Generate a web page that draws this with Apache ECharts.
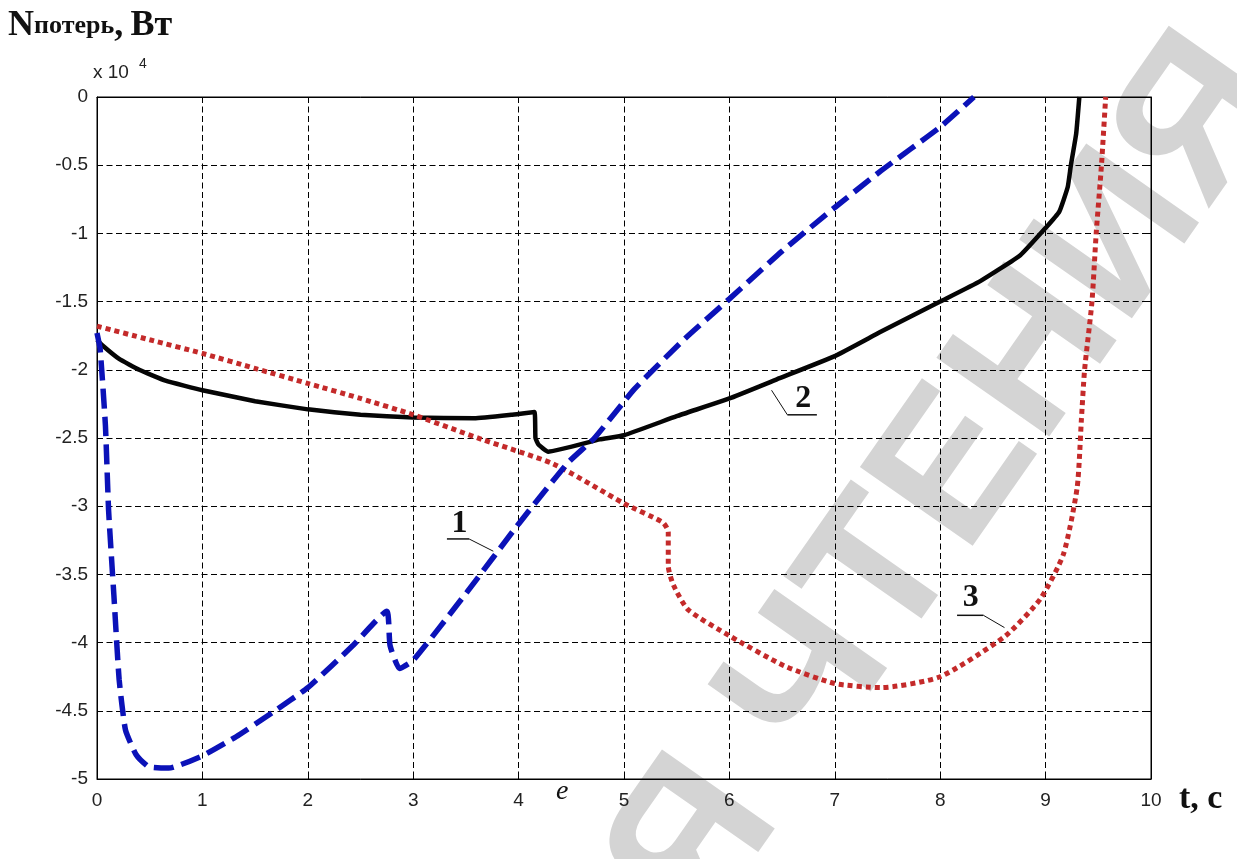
<!DOCTYPE html>
<html>
<head>
<meta charset="utf-8">
<script src="https://cdn.jsdelivr.net/npm/echarts@6/dist/echarts.min.js"></script>
<style>
html,body{margin:0;padding:0;background:#fff;}
#chart{width:1237px;height:859px;}
</style>
</head>
<body>
<div id="chart"></div>
<script>
// ---- data (values in units of 10^4 W) ----
var t1 = [0, 0.03, 0.08, 0.11, 0.16, 0.21, 0.27, 0.37, 0.49, 0.68, 1.0, 1.32, 1.67, 2.0, 2.43, 2.75, 2.78, 2.87, 3.0, 3.51, 4.0, 4.47, 4.72, 5.1, 5.58, 6.0, 6.5, 7.0, 7.44, 8.0, 8.32];
var v1 = [-1.73, -1.85, -2.41, -3.03, -3.65, -4.27, -4.64, -4.82, -4.91, -4.92, -4.83, -4.69, -4.51, -4.33, -4.02, -3.77, -4.02, -4.19, -4.13, -3.63, -3.13, -2.68, -2.50, -2.14, -1.77, -1.48, -1.13, -0.81, -0.54, -0.22, 0];

var t2 = [0, 0.05, 0.21, 0.4, 0.65, 1.0, 1.5, 2.0, 2.5, 3.0, 3.58, 3.93, 4.15, 4.16, 4.19, 4.28, 4.77, 5.0, 5.5, 6.0, 6.45, 7.0, 7.44, 8.0, 8.38, 8.76, 9.0, 9.13, 9.21, 9.24, 9.29, 9.32];
var v2 = [-1.78, -1.82, -1.92, -2.0, -2.08, -2.15, -2.23, -2.29, -2.33, -2.35, -2.355, -2.33, -2.31, -2.50, -2.55, -2.60, -2.51, -2.48, -2.34, -2.21, -2.07, -1.90, -1.72, -1.50, -1.35, -1.16, -0.96, -0.84, -0.66, -0.50, -0.27, 0];

var t3 = [0, 0.5, 1.0, 1.5, 2.0, 2.5, 3.0, 3.65, 4.33, 5.0, 5.37, 5.42, 5.42, 5.47, 5.61, 6.0, 6.52, 7.0, 7.44, 8.0, 8.62, 8.95, 9.17, 9.3, 9.34, 9.37, 9.44, 9.48, 9.53, 9.57];
var v3 = [-1.68, -1.78, -1.88, -1.99, -2.10, -2.21, -2.33, -2.51, -2.69, -2.98, -3.12, -3.19, -3.44, -3.58, -3.76, -3.95, -4.17, -4.30, -4.33, -4.25, -3.95, -3.68, -3.35, -2.86, -2.36, -2.0, -1.5, -1.0, -0.5, 0];

var xTicks = [0, 1, 2, 3, 4, 5, 6, 7, 8, 9, 10];
var yTicks = [0, -0.5, -1, -1.5, -2, -2.5, -3, -3.5, -4, -4.5, -5];

// curve labels: text, label centre, underline start, underline end, leader end (data coordinates)
var labelTexts = ['1', '2', '3'];
var labelPos = [[3.44, -3.13], [6.70, -2.21], [8.29, -3.67]];
var underA = [[3.32, -3.24], [6.55, -2.33], [8.16, -3.80]];
var underB = [[3.53, -3.24], [6.83, -2.33], [8.41, -3.80]];
var leaderEnd = [[3.76, -3.33], [6.40, -2.15], [8.61, -3.89]];

function pairs(t, v) { return t.map(function (x, i) { return [x, v[i]]; }); }

var chart = echarts.init(document.getElementById('chart'), null, {renderer: 'canvas'});

var axisFont = {color: '#222', fontSize: 19, fontFamily: 'Liberation Sans, Arial, sans-serif'};
var gridLine = {show: true, lineStyle: {type: [6, 3.5], color: '#000', width: 1}};

var option = {
  backgroundColor: '#fff',
  animation: false,
  grid: {left: 97, right: 86, top: 97, bottom: 80, show: true, borderColor: '#000', borderWidth: 1, backgroundColor: 'transparent'},
  xAxis: [{
    type: 'value', min: xTicks[0], max: xTicks[xTicks.length - 1], interval: 1,
    axisLine: {show: true, onZero: false, lineStyle: {color: '#000', width: 1}},
    axisTick: {show: true, inside: true, length: 6, lineStyle: {color: '#000'}},
    axisLabel: Object.assign({margin: 12}, axisFont),
    splitLine: gridLine
  }, {
    type: 'value', position: 'top', min: 0, max: 10, interval: 1,
    axisLine: {show: true, onZero: false, lineStyle: {color: '#000'}},
    axisTick: {show: true, inside: true, length: 6, lineStyle: {color: '#000'}},
    axisLabel: {show: false}, splitLine: {show: false}
  }],
  yAxis: [{
    type: 'value', min: yTicks[yTicks.length - 1], max: yTicks[0], interval: 0.5,
    axisLine: {show: true, onZero: false, lineStyle: {color: '#000', width: 1}},
    axisTick: {show: true, inside: true, length: 6, lineStyle: {color: '#000'}},
    axisLabel: Object.assign({margin: 9, formatter: function (v) { return String(v); }}, axisFont),
    splitLine: gridLine
  }, {
    type: 'value', position: 'right', min: -5, max: 0, interval: 0.5,
    axisLine: {show: true, onZero: false, lineStyle: {color: '#000'}},
    axisTick: {show: true, inside: true, length: 6, lineStyle: {color: '#000'}},
    axisLabel: {show: false}, splitLine: {show: false}
  }],
  series: [{
    name: '2', type: 'line', data: pairs(t2, v2), showSymbol: false, z: 3, smooth: 0.12,
    lineStyle: {color: '#050505', width: 4.5, join: 'round'}
  }, {
    name: '3', type: 'line', data: pairs(t3, v3), showSymbol: false, z: 4, smooth: 0.2,
    lineStyle: {color: '#c42a2a', width: 5, type: [5, 4], cap: 'butt'}
  }, {
    name: '1', type: 'line', data: pairs(t1, v1), showSymbol: false, z: 5, smooth: 0.15,
    lineStyle: {color: '#0b12b8', width: 5.5, type: [20, 8], cap: 'butt'}
  }]
};
chart.setOption(option);

function px(p) { return chart.convertToPixel({xAxisIndex: 0, yAxisIndex: 0}, p); }

var serif = '"Liberation Serif", "Times New Roman", serif';
var graphics = [
  // watermark
  {type: 'text', z: -10, silent: true, x: 1244, y: 62, rotation: 55 * Math.PI / 180,
   style: {text: 'ДЛЯ ЧТЕНИЯ', fill: '#d4d4d4', font: 'bold 200px "Liberation Sans", Arial, sans-serif', align: 'right', verticalAlign: 'middle'}},
  // y axis title
  {type: 'text', z: 20, x: 8, y: 8,
   style: {rich: {
     a: {fontFamily: serif, fontWeight: 'bold', fontSize: 36, fill: '#111'},
     b: {fontFamily: serif, fontWeight: 'bold', fontSize: 26, fill: '#111'},
     c: {fontFamily: serif, fontWeight: 'bold', fontSize: 36, fill: '#111', padding: [0, 0, 0, 4]}
   }, text: '{a|N}{b|потерь}{a|,} {c|Вт}'}},
  // x 10^4
  {type: 'text', z: 20, x: 93, y: 63, style: {text: 'x 10', fill: '#222', font: '19px "Liberation Sans", Arial, sans-serif'}},
  {type: 'text', z: 20, x: 139, y: 57, style: {text: '4', fill: '#222', font: '14px "Liberation Sans", Arial, sans-serif'}},
  // x axis title
  {type: 'text', z: 20, x: 1179, y: 782, style: {text: 't, c', fill: '#111', font: 'bold 34px ' + serif}},
  // figure letter
  {type: 'text', z: 20, x: 556, y: 778, style: {text: 'e', fill: '#111', font: 'italic 28px ' + serif}}
];

for (var i = 0; i < labelTexts.length; i++) {
  var p = px(labelPos[i]), a = px(underA[i]), b = px(underB[i]), e = px(leaderEnd[i]);
  graphics.push({type: 'text', z: 20, x: p[0], y: p[1],
    style: {text: labelTexts[i], fill: '#111', font: 'bold 32px ' + serif, align: 'center', verticalAlign: 'middle'}});
  graphics.push({type: 'line', z: 20, shape: {x1: a[0], y1: a[1], x2: b[0], y2: b[1]}, style: {stroke: '#111', lineWidth: 1.5}});
  var s = (i === 1) ? a : b;
  graphics.push({type: 'line', z: 20, shape: {x1: s[0], y1: s[1], x2: e[0], y2: e[1]}, style: {stroke: '#111', lineWidth: 1}});
}

chart.setOption({graphic: graphics});
</script>
</body>
</html>
